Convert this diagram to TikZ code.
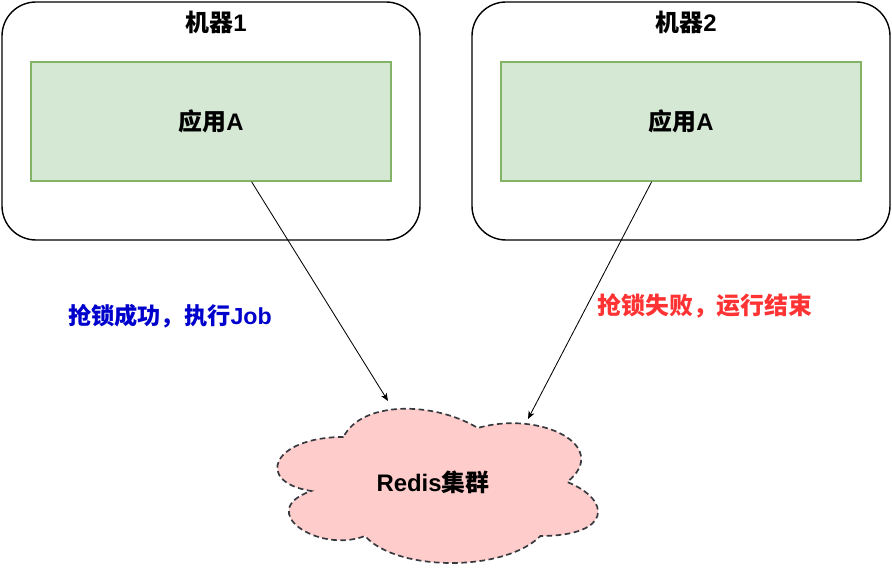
\documentclass[tikz,border=0pt]{standalone}
\usepackage{fontspec}
\setmainfont{Liberation Sans}
\newfontfamily\cjk{Noto Sans CJK SC}
\usetikzlibrary{arrows.meta}
\definecolor{appfill}{HTML}{D5E8D4}
\definecolor{appline}{HTML}{82B366}
\definecolor{redisfill}{HTML}{FFCCCC}
\definecolor{redisline}{HTML}{36393D}
\definecolor{okblue}{HTML}{0000CC}
\definecolor{failred}{HTML}{FF3333}
\begin{document}
\begin{tikzpicture}[font=\bfseries\fontsize{17}{20}\selectfont,
    machine/.style={draw,line width=1pt,rounded corners=0.85cm,minimum width=10.45cm,minimum height=5.95cm},
    app/.style={draw=appline,fill=appfill,line width=1pt,minimum width=9cm,minimum height=2.975cm},
    arr/.style={-{Stealth[length=5.5pt,width=4.5pt,inset=1.5pt]},line width=0.6pt}]
\useasboundingbox (0,0) rectangle (22.3,-14.3);
\draw
    (5.275,-3.025)  node[machine]  (m1) {}
    (5.4,-0.55)     node           (t1) {{\cjk 机器}1}
    (5.275,-3.04)   node[app]      (a1) {{\cjk 应用}A}
    (17.025,-3.025) node[machine]  (m2) {}
    (17.15,-0.55)   node           (t2) {{\cjk 机器}2}
    (17.025,-3.04)  node[app]      (a2) {{\cjk 应用}A};
\begin{scope}[shift={(6.35,-9.8)},x=8.95cm,y=-4.5cm]
\draw[redisline,fill=redisfill,line width=1.2pt,dash pattern=on 4pt off 2.5pt]
    (0.25,0.25) .. controls (0.05,0.25) and (0,0.5) .. (0.16,0.55)
    .. controls (0,0.66) and (0.18,0.9) .. (0.31,0.8)
    .. controls (0.4,1) and (0.7,1) .. (0.8,0.8)
    .. controls (1,0.8) and (1,0.6) .. (0.875,0.5)
    .. controls (1,0.3) and (0.8,0.1) .. (0.625,0.2)
    .. controls (0.5,0.05) and (0.3,0.05) .. (0.25,0.25) -- cycle;
\end{scope}
\draw
    (10.825,-12.05) node           (redis) {Redis{\cjk 集群}}
    (9.7,-10.025)   coordinate     (c1)
    (13.2,-10.475)  coordinate     (c2)
    (4.25,-7.9)     node[okblue,font=\bfseries\fontsize{16.5}{19}\selectfont] (ok) {{\cjk 抢锁成功，执行}Job}
    (17.625,-7.65)  node[failred]  (fail) {\cjk 抢锁失败，运行结束};
\draw[arr] (a1.-56.8) -- (c1);
\draw[arr] (a2.-116.8) -- (c2);
\end{tikzpicture}
\end{document}
